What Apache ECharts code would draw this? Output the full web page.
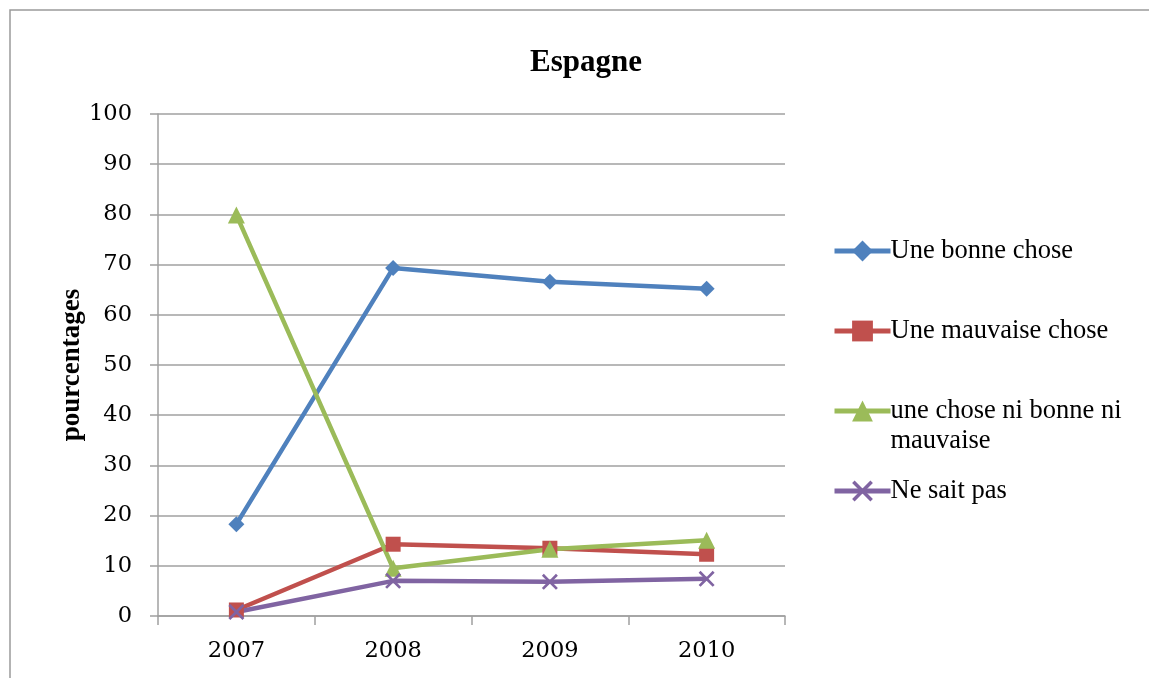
<!DOCTYPE html>
<html><head><meta charset="utf-8">
<script src="https://cdn.jsdelivr.net/npm/echarts@6/dist/echarts.min.js"></script>
<style>html,body{margin:0;padding:0;background:#fff}#c{width:1149px;height:678px}</style>
</head><body><div id="c"></div>
<script>
const categories = ['2007', '2008', '2009', '2010'];
const bonne = [18.3, 69.3, 66.6, 65.2];
const mauvaise = [1.2, 14.3, 13.5, 12.3];
const niNi = [79.9, 9.5, 13.3, 15.1];
const nsp = [0.8, 7.0, 6.8, 7.4];
const seriesNames = ['Une bonne chose', 'Une mauvaise chose', 'une chose ni bonne ni\nmauvaise', 'Ne sait pas'];
const yTicks = { min: 0, max: 100, interval: 10 };

const colors = ['#4F81BD', '#C0504D', '#9BBB59', '#8064A2'];
const xPath = 'path://M0,1.2L1.2,0L5,3.8L8.8,0L10,1.2L6.2,5L10,8.8L8.8,10L5,6.2L1.2,10L0,8.8L3.8,5Z';
const symbols = ['diamond', 'rect', 'triangle', xPath];
const symSizes = [16, 15, 17, 16];
const datas = [bonne, mauvaise, niNi, nsp];
const serif = 'Liberation Serif';

const chart = echarts.init(document.getElementById('c'));
const legendTops = [236, 316, 366, 476];
const legends = seriesNames.map((n, i) => ({
  data: [n], left: 832, top: legendTops[i], orient: 'vertical',
  itemWidth: 56, itemHeight: 26, itemGap: 0, padding: 0,
  formatter: i === 2 ? (name) => ' \n' + name : undefined,
  lineStyle: { width: 5 },
  textStyle: { fontFamily: serif, fontSize: 26.5, color: '#000', lineHeight: 30, padding: [0, 0, 0, -5] },
  selectedMode: false
}));
chart.setOption({
  animation: false,
  color: colors,
  title: { text: 'Espagne', left: 581, top: 42, textAlign: 'center',
    textStyle: { fontFamily: serif, fontWeight: 'bold', fontSize: 31, color: '#000' } },
  graphic: [{ type: 'rect', shape: { x: 10, y: 10, width: 1200, height: 700 },
    style: { fill: 'none', stroke: '#9a9a9a', lineWidth: 1.5 }, silent: true }],
  legend: legends,
  grid: { left: 158, right: 364, top: 114, bottom: 62 },
  xAxis: {
    type: 'category', data: categories, boundaryGap: true,
    axisLine: { lineStyle: { color: '#a0a0a0', width: 1.5 } },
    axisTick: { show: true, length: 9, lineStyle: { color: '#a0a0a0', width: 1.5 } },
    axisLabel: { fontFamily: 'DejaVu Serif', fontSize: 22.5, color: '#000', margin: 24 }
  },
  yAxis: {
    type: 'value', min: yTicks.min, max: yTicks.max, interval: yTicks.interval,
    name: 'pourcentages', nameLocation: 'middle', nameGap: 72, nameRotate: 90,
    nameMoveOverlap: false,
    nameTextStyle: { fontFamily: serif, fontWeight: 'bold', fontSize: 27, color: '#000' },
    axisLine: { show: true, lineStyle: { color: '#a0a0a0', width: 1.5 } },
    axisTick: { show: true, length: 8, lineStyle: { color: '#a0a0a0', width: 1.5 } },
    axisLabel: { fontFamily: 'DejaVu Serif', fontSize: 22.5, color: '#000', margin: 26 },
    splitLine: { lineStyle: { color: '#a0a0a0', width: 1.5 } }
  },
  series: seriesNames.map((n, i) => ({
    name: n, type: 'line', data: datas[i],
    symbol: symbols[i], symbolSize: symSizes[i], showAllSymbol: true,
    lineStyle: { width: 4.5, color: colors[i] },
    itemStyle: { color: colors[i] }
  }))
});
</script></body></html>
